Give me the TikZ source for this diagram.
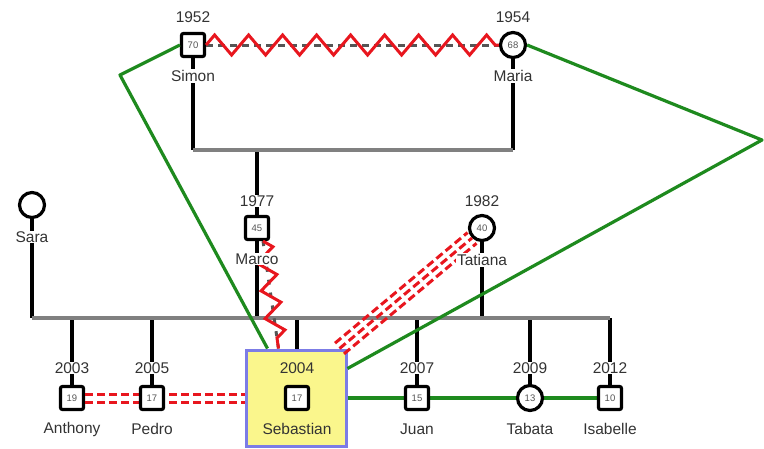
\documentclass[tikz,border=0pt]{standalone}
\usepackage{fontspec}
\setmainfont{Liberation Sans}
\usetikzlibrary{decorations.pathmorphing,calc}
\definecolor{gline}{HTML}{1E8A1E}
\definecolor{rline}{HTML}{E8161E}
\definecolor{bar}{HTML}{808080}
\definecolor{dgray}{HTML}{555555}
\definecolor{txt}{HTML}{333333}
\definecolor{hlfill}{HTML}{FAF68C}
\definecolor{hlborder}{HTML}{7C7CE6}
\tikzset{
  pbox/.style={rectangle, draw=black, line width=3.2pt, fill=white, minimum size=23pt, inner sep=0pt, rounded corners=2pt, font=\fontsize{9.5}{9.5}\selectfont, text=dgray},
  pcirc/.style={circle, draw=black, line width=3.2pt, fill=white, minimum size=25pt, inner sep=0pt, font=\fontsize{9.5}{9.5}\selectfont, text=dgray},
  lbl/.style={fill=white, inner sep=1pt, text=txt, font=\fontsize{15.5}{15.5}\selectfont},
  hlbl/.style={inner sep=1pt, text=txt, font=\fontsize{15.5}{15.5}\selectfont},
  famline/.style={line width=3.2pt, black},
  barline/.style={line width=3.2pt, bar},
  greenline/.style={line width=3.2pt, gline},
  redzig/.style={line width=3pt, rline, decorate, decoration={zigzag, segment length=34pt, amplitude=10pt}},
  redzigs/.style={line width=3pt, rline, decorate, decoration={zigzag, segment length=28pt, amplitude=9pt}},
  graydash/.style={line width=3pt, dgray, dash pattern=on 7pt off 5pt},
  reddash/.style={line width=3pt, rline, dash pattern=on 8pt off 4pt},
}
\begin{document}
\begin{tikzpicture}[x=1pt,y=-1pt]
\useasboundingbox (0,0) rectangle (764,448);
% coordinates
\coordinate (bar1l) at (193,150);
\coordinate (bar1r) at (513,150);
\coordinate (bar1m) at (257,150);
\coordinate (bar2l) at (32,318);
\coordinate (bar2r) at (610,318);
\coordinate (g1) at (120,75);
\coordinate (g3) at (762,140);
% people positions
\coordinate (psimon) at (193,45);
\coordinate (pmaria) at (513,45);
\coordinate (pmarco) at (257,228);
\coordinate (ptatiana) at (482,228);
\coordinate (psara) at (32,205);
% family lines
\draw[famline] (psimon) -- (bar1l);
\draw[famline] (pmaria) -- (bar1r);
\draw[famline] (bar1m) -- (pmarco);
\draw[famline] (psara) |- (bar2l);
\draw[famline] (pmarco) -- (pmarco |- bar2l);
\draw[famline] (ptatiana) -- (ptatiana |- bar2l);
\foreach \x in {72,152,297,417,530,610} {
  \draw[famline] (\x,318) -- (\x,386);
}
\draw[barline] (bar1l) -- (bar1r);
\draw[barline] (bar2l) -- (bar2r);
% highlight box
\node[draw=hlborder, fill=hlfill, line width=3pt, minimum width=100pt, minimum height=96pt, inner sep=0pt] (sebbox) at (296,398) {};
\coordinate (g2) at ($(sebbox.north west)+(23,0)$);
\coordinate (g4) at ($(sebbox.north east)+(0,20)$);
\coordinate (sebne) at ($(sebbox.north east)+(-8,0)$);
\coordinate (sebzz) at ($(sebbox.north west)+(34,0)$);
% person nodes
\node[pbox] (simon) at (psimon) {70};
\node[pcirc] (maria) at (pmaria) {68};
\node[pbox] (marco) at (pmarco) {45};
\node[pcirc] (tatiana) at (ptatiana) {40};
\node[pcirc, minimum size=25pt] (sara) at (psara) {};
% relationship lines
\draw[graydash] (simon.east) -- (maria.west);
\draw[redzig] (simon.east) -- (maria.west);
\draw[greenline, line join=round] (simon.west) -- (g1) -- (g2);
\draw[greenline, line join=round] (maria.east) -- (g3) -- (g4);
\draw[graydash, dash pattern=on 5pt off 8pt] ([xshift=6pt]marco.south) -- (sebzz);
\draw[redzigs] ([xshift=6pt]marco.south) -- (sebzz);
\foreach \s in {-7,0,7} {
  \draw[reddash] ($(sebne)!\s pt!90:(tatiana.south west)$) -- ($(tatiana.south west)!\s pt!-90:(sebne)$);
}
% children
\draw[greenline] (sebbox.east) -- (610,398);
\node[pbox] (anthony) at (72,398) {19};
\draw[reddash] ([yshift=4pt]anthony.east) -- ([yshift=4pt]anthony.east -| sebbox.west);
\draw[reddash] ([yshift=-4pt]anthony.east) -- ([yshift=-4pt]anthony.east -| sebbox.west);
\node[pbox] (pedro) at (152,398) {17};
\node[pbox] (seb) at (297,398) {17};
\node[pbox] (juan) at (417,398) {15};
\node[pcirc] (tabata) at (530,398) {13};
\node[pbox] (isabelle) at (610,398) {10};
% labels
\node[lbl] (y1952) at (193,17) {1952};
\node[lbl] (y1954) at (513,17) {1954};
\node[lbl] (nsimon) at (193,76) {Simon};
\node[lbl] (nmaria) at (513,76) {Maria};
\node[lbl] (y1977) at (257,201) {1977};
\node[lbl] (y1982) at (482,201) {1982};
\node[lbl] (nsara) at (32,237) {Sara};
\node[lbl] (nmarco) at (257,259) {Marco};
\node[lbl] (ntatiana) at (482,260) {Tatiana};
\node[lbl] (y2003) at (72,368) {2003};
\node[lbl] (y2005) at (152,368) {2005};
\node[hlbl] (y2004) at (297,368) {2004};
\node[lbl] (y2007) at (417,368) {2007};
\node[lbl] (y2009) at (530,368) {2009};
\node[lbl] (y2012) at (610,368) {2012};
\node[lbl] (nanthony) at (72,429) {Anthony};
\node[lbl] (npedro) at (152,429) {Pedro};
\node[hlbl] (nseb) at (297,429) {Sebastian};
\node[lbl] (njuan) at (417,429) {Juan};
\node[lbl] (ntabata) at (530,429) {Tabata};
\node[lbl] (nisabelle) at (610,429) {Isabelle};
\end{tikzpicture}
\end{document}
